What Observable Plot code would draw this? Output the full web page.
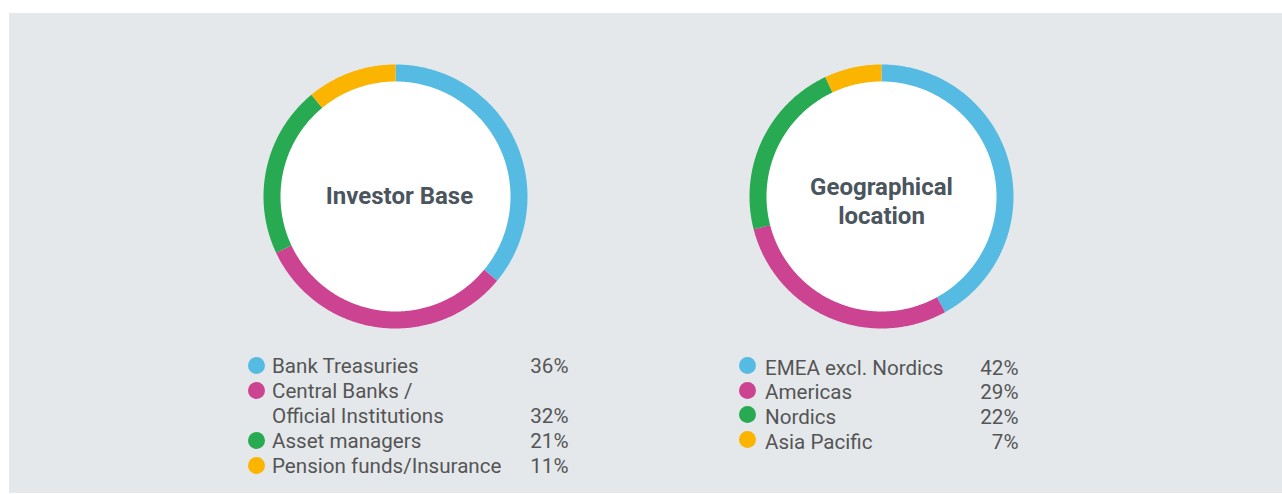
<!DOCTYPE html>
<html><head><meta charset="utf-8">
<script src="https://cdn.jsdelivr.net/npm/d3@7"></script>
<script src="https://cdn.jsdelivr.net/npm/@observablehq/plot@0.6"></script>
<style>
html,body{margin:0;padding:0;background:#fff;width:1282px;height:494px;overflow:hidden;font-family:Roboto,"Noto Sans",sans-serif;}
#panel{position:absolute;left:9px;top:13px;width:1273px;height:480px;background:#e4e8eb;}
.donut{position:absolute;top:46px;width:300px;height:300px;}
.legend{position:absolute;font-size:20.6px;color:#555;}
.item{display:flex;align-items:flex-start;}
.dot{width:17px;height:17px;border-radius:50%;flex:none;}
.lab{white-space:pre-line;flex:1;}
.val{align-self:flex-end;text-align:right;}
</style></head><body>
<div id="panel"></div>
<div id="d1" class="donut" style="left:245px"></div>
<div id="d2" class="donut" style="left:731px"></div>
<div id="l1" class="legend" style="left:247.5px;top:353.5px;width:321px;line-height:25px"></div>
<div id="l2" class="legend" style="left:738.5px;top:355.5px;width:280px;line-height:24.7px"></div>
<script>
// ---- data ----
const investorTitle = "Investor Base";
const investorLabels = ["Bank Treasuries", "Central Banks /\nOfficial Institutions", "Asset managers", "Pension funds/Insurance"];
const investorValues = [36, 32, 21, 11];

const geoTitle = "Geographical\nlocation";
const geoLabels = ["EMEA excl. Nordics", "Americas", "Nordics", "Asia Pacific"];
const geoValues = [42, 29, 22, 7];

const sliceColors = ["#56bbe3", "#cc4391", "#28aa52", "#fbb400"];

// ---- drawing ----
function arcPoints(labels, values, radius) {
  const total = d3.sum(values);
  const pts = [];
  let cum = 0;
  labels.forEach((label, i) => {
    const a0 = cum / total * 2 * Math.PI;
    cum += values[i];
    const a1 = cum / total * 2 * Math.PI;
    const n = Math.max(2, Math.ceil((a1 - a0) / (Math.PI / 360)));
    for (let k = 0; k <= n; k++) {
      const a = a0 + (a1 - a0) * k / n;
      pts.push({label, x: radius * Math.sin(a), y: radius * Math.cos(a)});
    }
  });
  return pts;
}

function donut(el, title, labels, values, dx, dy) {
  const pts = arcPoints(labels, values, 123.5);
  const chart = Plot.plot({
    width: 300, height: 300,
    margin: 0,
    x: {domain: [-150, 150], axis: null},
    y: {domain: [-150, 150], axis: null},
    color: {type: "ordinal", domain: labels, range: sliceColors},
    style: {background: "transparent", fontFamily: "Roboto, sans-serif", overflow: "visible"},
    marks: [
      Plot.dot([0], {x: () => 0, y: () => 0, r: 124, fill: "white", stroke: "none"}),
      Plot.line(pts, {x: "x", y: "y", z: "label", stroke: "label", strokeWidth: 17, strokeLinecap: "butt", strokeLinejoin: "round"}),
      Plot.text([title], {x: () => 0, y: () => 0, text: d => d, fontSize: 24, fontWeight: 700, fill: "#4a555e", lineHeight: 1.2, dx: dx, dy: dy})
    ]
  });
  document.getElementById(el).appendChild(chart);
}

function legend(el, labels, values, gap, dotTop) {
  const box = document.getElementById(el);
  labels.forEach((label, i) => {
    const item = document.createElement("div");
    item.className = "item";
    const dot = document.createElement("div");
    dot.className = "dot";
    dot.style.background = sliceColors[i];
    dot.style.marginTop = dotTop + "px";
    const lab = document.createElement("div");
    lab.className = "lab";
    lab.style.marginLeft = gap + "px";
    lab.textContent = label;
    const val = document.createElement("div");
    val.className = "val";
    val.textContent = values[i] + "%";
    item.append(dot, lab, val);
    box.appendChild(item);
  });
}

donut("d1", investorTitle, investorLabels, investorValues, 4, -2);
donut("d2", geoTitle, geoLabels, geoValues, 0, 4);
legend("l1", investorLabels, investorValues, 7.5, 3);
legend("l2", geoLabels, geoValues, 9.5, 1.5);
</script>
</body></html>
